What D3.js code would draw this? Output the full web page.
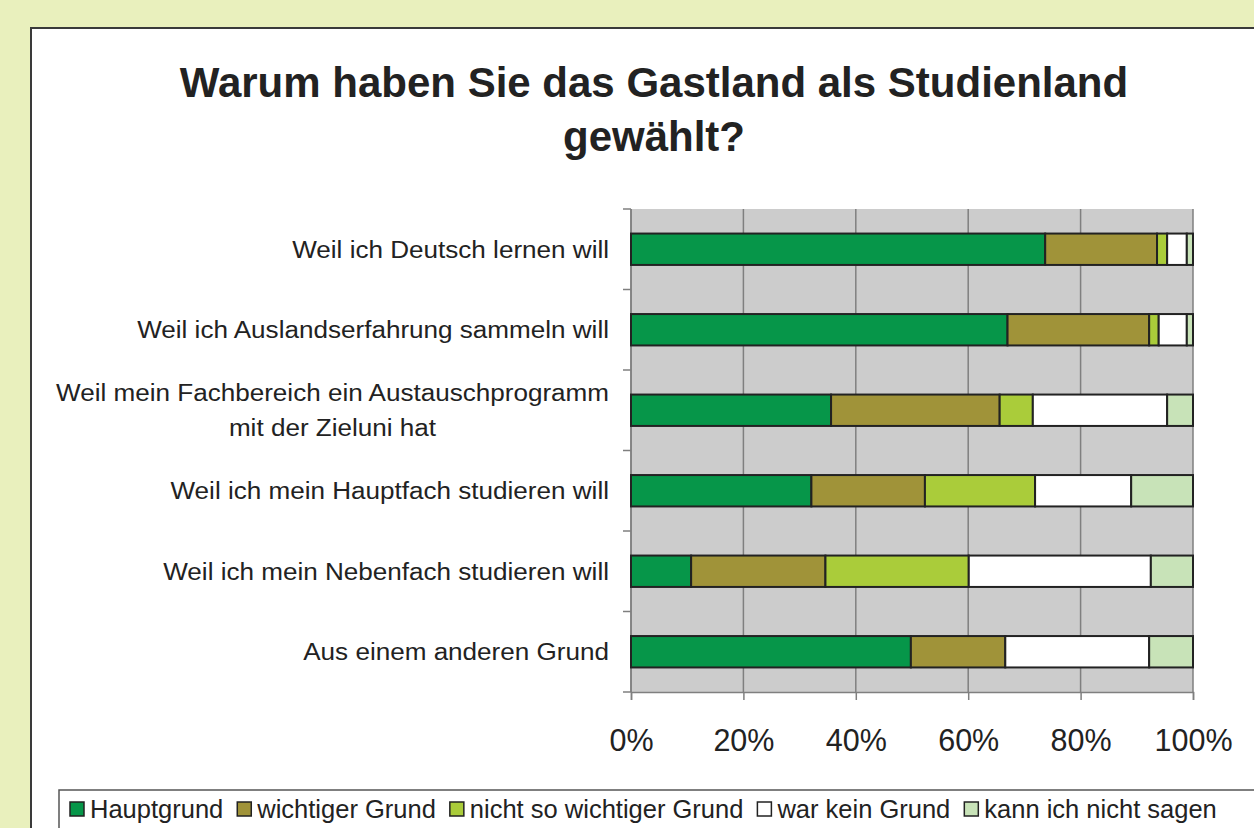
<!DOCTYPE html>
<html>
<head>
<meta charset="utf-8">
<script src="https://cdn.jsdelivr.net/npm/d3@7"></script>
<style>
  body { margin: 0; background: #e9f0bd; }
  svg { display: block; font-family: "Liberation Sans", Arial, sans-serif; }
</style>
</head>
<body>
<div id="chart"></div>
<script>
// categories (top to bottom), label lines
var categories = [
  ["Weil ich Deutsch lernen will"],
  ["Weil ich Auslandserfahrung sammeln will"],
  ["Weil mein Fachbereich ein Austauschprogramm", "mit der Zieluni hat"],
  ["Weil ich mein Hauptfach studieren will"],
  ["Weil ich mein Nebenfach studieren will"],
  ["Aus einem anderen Grund"]
];

var seriesNames = ["Hauptgrund", "wichtiger Grund", "nicht so wichtiger Grund", "war kein Grund", "kann ich nicht sagen"];
var seriesColors = ["#069649", "#a09339", "#aacc3a", "#ffffff", "#c8e3b8"];

// percent values per category, one array per series
var hauptgrund      = [73.7, 67.0, 35.6, 32.1, 10.7, 49.8];
var wichtigerGrund  = [19.9, 25.2, 30.0, 20.2, 23.9, 16.8];
var nichtSoWichtig  = [1.8, 1.7, 5.9, 19.6, 25.5, 0.0];
var warKeinGrund    = [3.5, 5.0, 23.9, 17.1, 32.4, 25.6];
var kannNichtSagen  = [1.1, 1.1, 4.6, 11.0, 7.5, 7.8];

var xTicks = [0, 20, 40, 60, 80, 100];

var svgWidth = 1254;
var svgHeight = 828;

var plot = { left: 631, right: 1193, top: 209, bottom: 692 };

var svg = d3.select("#chart")
  .append("svg")
  .attr("width", svgWidth)
  .attr("height", svgHeight);

// background and white panel
svg.append("rect")
  .attr("width", svgWidth).attr("height", svgHeight)
  .attr("fill", "#e9f0bd");

svg.append("rect")
  .attr("x", 31).attr("y", 28)
  .attr("width", svgWidth).attr("height", svgHeight)
  .attr("fill", "#ffffff")
  .attr("stroke", "#3a3a3a")
  .attr("stroke-width", 2);

// title
var title = svg.append("text")
  .attr("text-anchor", "middle")
  .attr("font-size", "42px")
  .attr("font-weight", "bold")
  .attr("fill", "#222");
title.append("tspan").attr("x", 654).attr("y", 97).text("Warum haben Sie das Gastland als Studienland");
title.append("tspan").attr("x", 654).attr("y", 151).text("gewählt?");

// stacked data
var seriesArrays = [hauptgrund, wichtigerGrund, nichtSoWichtig, warKeinGrund, kannNichtSagen];
var rows = categories.map(function(c, i) {
  var row = { idx: i };
  seriesNames.forEach(function(s, j) { row[s] = seriesArrays[j][i]; });
  return row;
});
var stack = d3.stack().keys(seriesNames)(rows);

var x = d3.scaleLinear().domain([0, 100]).range([plot.left, plot.right]);
var y = d3.scaleBand()
  .domain(d3.range(categories.length))
  .range([plot.top, plot.bottom])
  .paddingInner(0.61)
  .paddingOuter(0.305);
var yBand = d3.scaleBand()
  .domain(d3.range(categories.length))
  .range([plot.top, plot.bottom]);

// plot background
svg.append("rect")
  .attr("x", plot.left).attr("y", plot.top)
  .attr("width", plot.right - plot.left)
  .attr("height", plot.bottom - plot.top)
  .attr("fill", "#cccccc");

// vertical gridlines
svg.append("g")
  .selectAll("line")
  .data(xTicks)
  .enter()
  .append("line")
  .attr("x1", d => x(d)).attr("x2", d => x(d))
  .attr("y1", plot.top).attr("y2", plot.bottom)
  .attr("stroke", "#7f7f7f")
  .attr("stroke-width", 1.5);

// x axis
var xAxis = svg.append("g")
  .attr("transform", `translate(0, ${plot.bottom})`)
  .call(d3.axisBottom(x).tickValues(xTicks).tickSize(8).tickPadding(29).tickFormat(d => d + "%"));
xAxis.select(".domain").attr("stroke", "#7f7f7f").attr("stroke-width", 1.5);
xAxis.selectAll(".tick line").attr("stroke", "#7f7f7f").attr("stroke-width", 1.5);
xAxis.selectAll("text")
  .attr("font-size", "30.5px")
  .attr("font-family", "Liberation Sans, Arial, sans-serif")
  .attr("fill", "#222");

// y axis line + ticks on band boundaries
svg.append("line")
  .attr("x1", plot.left).attr("x2", plot.left)
  .attr("y1", plot.top).attr("y2", plot.bottom)
  .attr("stroke", "#7f7f7f").attr("stroke-width", 1.5);
var boundaries = d3.range(categories.length + 1).map(i => i < categories.length ? yBand(i) : plot.bottom);
svg.append("g")
  .selectAll("line")
  .data(boundaries)
  .enter()
  .append("line")
  .attr("x1", plot.left - 8).attr("x2", plot.left)
  .attr("y1", d => d).attr("y2", d => d)
  .attr("stroke", "#7f7f7f").attr("stroke-width", 1.5);

// bars
var layers = svg.append("g")
  .selectAll("g")
  .data(stack)
  .enter()
  .append("g")
  .attr("fill", (d, i) => seriesColors[i]);

layers.selectAll("rect")
  .data(d => d.filter(p => p[1] - p[0] > 0))
  .enter()
  .append("rect")
  .attr("x", d => x(d[0]))
  .attr("y", d => y(d.data.idx))
  .attr("width", d => x(d[1]) - x(d[0]))
  .attr("height", y.bandwidth())
  .attr("stroke", "#222")
  .attr("stroke-width", 2);

// category labels (slightly widened like the original)
var labelGroup = svg.append("g")
  .attr("transform", "translate(609,0) scale(1.087,1)");
categories.forEach(function(lines, i) {
  var cy = yBand(i) + yBand.bandwidth() / 2;
  var lineH = 35;
  var t = labelGroup.append("text")
    .attr("font-size", "24px")
    .attr("fill", "#222")
    .attr("text-anchor", "middle");
  var spans = lines.map(function(l, k) {
    return t.append("tspan")
      .attr("y", cy + 8.5 + (k - (lines.length - 1) / 2) * lineH)
      .text(l);
  });
  var maxW = d3.max(spans, s => s.node().getComputedTextLength());
  spans.forEach(s => s.attr("x", -maxW / 2));
});

// legend
var legend = svg.append("g");
legend.append("rect")
  .attr("x", 59).attr("y", 790)
  .attr("width", 1254).attr("height", 60)
  .attr("fill", "#ffffff")
  .attr("stroke", "#555")
  .attr("stroke-width", 1.5);

var legendX = 70;
seriesNames.forEach(function(name, i) {
  legend.append("rect")
    .attr("x", legendX).attr("y", 802)
    .attr("width", 14).attr("height", 14)
    .attr("fill", seriesColors[i])
    .attr("stroke", "#222")
    .attr("stroke-width", 1.5);
  var t = legend.append("text")
    .attr("x", legendX + 20).attr("y", 818)
    .attr("font-size", "25.5px")
    .attr("fill", "#222")
    .text(name);
  legendX += 20 + t.node().getComputedTextLength() + 14;
});
</script>
</body>
</html>
